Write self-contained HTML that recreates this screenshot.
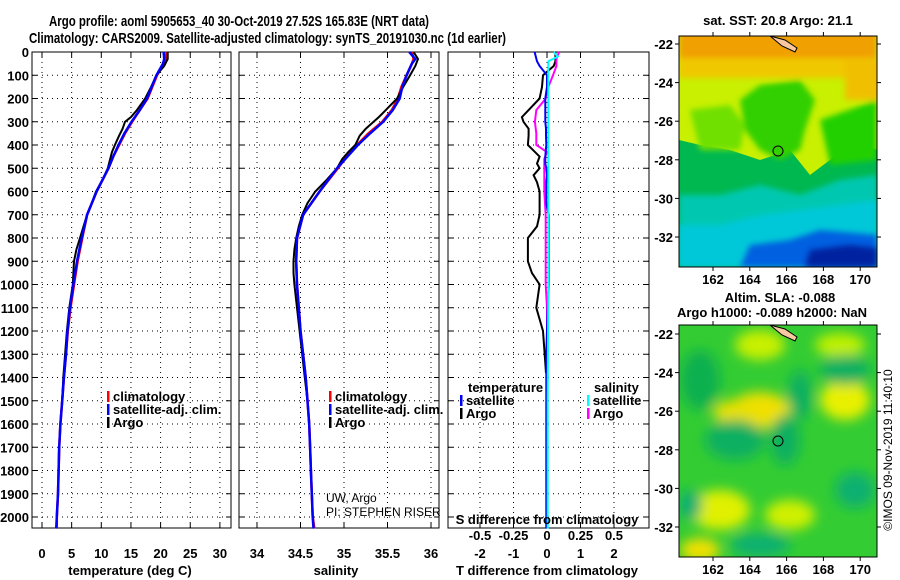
<!DOCTYPE html>
<html><head><meta charset="utf-8"><style>
html,body{margin:0;padding:0;background:#fff;}
svg{display:block;font-family:"Liberation Sans",sans-serif;}
.b{font-weight:bold;font-size:13px;}
.lg{font-weight:bold;font-size:13px;}
</style></head><body>
<svg id="c" width="900" height="580" viewBox="0 0 900 580">
<defs>
<filter id="bl" x="-20%" y="-20%" width="140%" height="140%"><feGaussianBlur stdDeviation="6"/></filter>
<filter id="bl2" x="-20%" y="-20%" width="140%" height="140%"><feGaussianBlur stdDeviation="3"/></filter>
<clipPath id="m1"><rect x="679" y="36" width="198" height="231"/></clipPath>
<clipPath id="m2"><rect x="679" y="325" width="198" height="232"/></clipPath>
</defs>
<text x="49" y="26" textLength="380" lengthAdjust="spacingAndGlyphs" style="font-weight:bold;font-size:15px">Argo profile: aoml 5905653_40 30-Oct-2019 27.52S 165.83E (NRT data)</text>
<text x="29" y="43" textLength="477" lengthAdjust="spacingAndGlyphs" style="font-weight:bold;font-size:15px">Climatology: CARS2009. Satellite-adjusted climatology: synTS_20191030.nc (1d earlier)</text>
<g id="plots"></g>

<!-- SST map -->
<g clip-path="url(#m1)">
<rect x="679" y="36" width="198" height="231" fill="#00b850"/>
<polygon points="679,36 877,36 877,150 850,140 830,160 810,175 790,150 760,160 730,150 700,145 679,140" fill="#c8f000"/>
<g filter="url(#bl2)">
<rect x="679" y="30" width="198" height="32" fill="#f0a000"/>
<rect x="679" y="58" width="198" height="20" fill="#f0c800"/>
<rect x="845" y="60" width="40" height="40" fill="#f0c000"/>
<polygon points="740,100 760,85 800,80 815,100 805,130 800,150 780,160 760,150 745,130" fill="#30d000"/>
<polygon points="690,110 730,105 745,125 740,150 700,150" fill="#70e000"/>
<polygon points="820,120 877,100 877,160 830,165" fill="#20d000"/>
</g>
<polygon points="679,195 720,195 760,185 800,195 840,180 877,175 877,267 679,267" fill="#00c8b0" filter="url(#bl2)"/>
<polygon points="679,225 720,225 760,215 800,210 877,200 877,267 679,267" fill="#00c8d8" filter="url(#bl2)"/>
<polygon points="740,267 750,245 790,240 820,230 877,235 877,267" fill="#0060e0" filter="url(#bl2)"/>
<polygon points="805,267 810,250 850,245 877,248 877,267" fill="#0020a0" filter="url(#bl2)"/>
<polygon points="770,36 785,40 797,48 795,52 782,46" fill="#f8c8a0" stroke="#000" stroke-width="1"/>
<circle cx="778" cy="151" r="5" fill="none" stroke="#000"/>
</g>
<rect x="679" y="36" width="198" height="231" fill="none" stroke="#000"/>
<text x="778" y="25" text-anchor="middle" class="b">sat. SST: 20.8 Argo: 21.1</text>

<!-- SLA map -->
<g clip-path="url(#m2)">
<rect x="679" y="325" width="198" height="232" fill="#33cc33"/>
<g filter="url(#bl)">
<ellipse cx="760" cy="410" rx="30" ry="18" fill="#f0e000"/>
<ellipse cx="735" cy="412" rx="22" ry="12" fill="#e8e000"/>
<ellipse cx="845" cy="400" rx="25" ry="20" fill="#e8f000"/>
<ellipse cx="760" cy="345" rx="25" ry="15" fill="#c8f000"/>
<ellipse cx="840" cy="345" rx="25" ry="12" fill="#c0f000"/>
<ellipse cx="720" cy="510" rx="30" ry="20" fill="#e0f000"/>
<ellipse cx="700" cy="550" rx="20" ry="12" fill="#f0e000"/>
<ellipse cx="790" cy="515" rx="25" ry="15" fill="#d0f000"/>
<ellipse cx="700" cy="380" rx="20" ry="30" fill="#10b050"/>
<ellipse cx="735" cy="440" rx="30" ry="20" fill="#10b060"/>
<ellipse cx="785" cy="440" rx="15" ry="25" fill="#10b060"/>
<ellipse cx="800" cy="395" rx="12" ry="25" fill="#10b060"/>
<ellipse cx="845" cy="370" rx="25" ry="15" fill="#10b060"/>
<ellipse cx="855" cy="490" rx="20" ry="18" fill="#10b070"/>
<ellipse cx="760" cy="545" rx="30" ry="12" fill="#10b070"/>
<ellipse cx="690" cy="505" rx="12" ry="15" fill="#10b070"/>
</g>
<polygon points="770,325 785,329 797,337 795,341 782,335" fill="#f8c8a0" stroke="#000" stroke-width="1"/>
<circle cx="778" cy="441" r="5" fill="none" stroke="#000"/>
</g>
<rect x="679" y="325" width="198" height="232" fill="none" stroke="#000"/>
<text x="780" y="302" text-anchor="middle" class="b">Altim. SLA: -0.088</text>
<text x="772" y="317" text-anchor="middle" class="b">Argo h1000: -0.089 h2000: NaN</text>
<text transform="translate(892,450) rotate(-90)" text-anchor="middle" style="font-size:12px">©IMOS 09-Nov-2019 11:40:10</text>
<g id="maps"></g>
</svg>
<script>
// ---------- data ----------
const depthTicks=[0,100,200,300,400,500,600,700,800,900,1000,1100,1200,1300,1400,1500,1600,1700,1800,1900,2000];
const tempTicks=[0,5,10,15,20,25,30];
const salTicks=[34,34.5,35,35.5,36];
const salTickLabels=["34","34.5","35","35.5","36"];
const tdiffTicks=[-2,-1,0,1,2];
const sdiffTicks=[-0.5,-0.25,0,0.25,0.5];
const sdiffTickLabels=["-0.5","-0.25","0","0.25","0.5"];
const climDepth=[0,30,50,100,150,200,250,300,350,400,450,500,600,700,800,900,1000,1100,1200,1300,1400,1500,1600,1700,1800,1900,2000,2050];
const climTemp=[21,20.9,20.5,19.4,18.6,17.8,16.5,15.2,14.0,13.0,12.0,11.2,9.2,7.6,6.8,6.0,5.4,4.8,4.35,4.05,3.7,3.4,3.1,2.9,2.8,2.7,2.5,2.5];
const satTemp=[20.5,20.6,20.4,19.3,18.5,17.7,16.5,15.1,13.9,12.9,12.0,11.2,9.2,7.6,6.7,5.9,5.3,4.7,4.3,4.05,3.7,3.4,3.1,2.9,2.8,2.7,2.5,2.4];
const climSal=[35.78,35.8,35.78,35.72,35.66,35.62,35.55,35.44,35.28,35.15,35.03,34.93,34.72,34.53,34.46,34.45,34.46,34.48,34.5,34.53,34.56,34.58,34.6,34.61,34.62,34.63,34.64,34.66];
const satSal=[35.75,35.82,35.78,35.72,35.67,35.64,35.56,35.45,35.3,35.16,35.04,34.92,34.72,34.53,34.46,34.45,34.46,34.48,34.5,34.53,34.56,34.58,34.6,34.61,34.62,34.63,34.64,34.65];
const argoDepth=[0,30,60,100,150,200,250,280,300,330,360,400,430,460,500,550,600,650,700,750,800,850,900,950,1000,1100,1200,1300,1400,1500];
const argoTemp=[21.2,21.2,20.6,19.3,18.4,17.4,16.0,15.0,14.0,13.6,13.0,12.3,11.8,11.5,11.1,10.2,9.1,8.4,7.6,7.0,6.4,5.8,5.4,5.3,5.2,4.6,4.2,3.9,3.6,3.4];
const argoSal=[35.8,35.85,35.82,35.76,35.68,35.61,35.48,35.4,35.34,35.25,35.18,35.13,35.05,34.98,34.92,34.8,34.67,34.58,34.52,34.48,34.45,34.43,34.42,34.42,34.43,34.46,34.49,34.52,34.55,34.58];
const tdDepth=[0,40,60,100,150,200,250,280,300,330,360,400,450,480,500,530,560,600,650,700,750,800,850,900,950,1000,1100,1200,1300,1380];
const tdArgo=[0.25,0.25,0.2,-0.12,-0.15,-0.22,-0.55,-0.75,-0.7,-0.55,-0.55,-0.57,-0.22,-0.3,-0.22,-0.4,-0.3,-0.22,-0.22,-0.22,-0.3,-0.57,-0.57,-0.57,-0.45,-0.22,-0.32,-0.12,-0.07,-0.03];
const tdSat=[-0.37,-0.3,-0.22,0,0,-0.05,-0.05,-0.05,-0.05,-0.03,-0.03,-0.02,-0.05,-0.05,-0.02,0,-0.02,-0.02,-0.02,0.05,0.05,0.05,0.05,0.05,0.05,0.05,0.02,0.0,-0.02,-0.02];
const sdDepth=[0,30,60,100,150,200,250,300,350,400,430,460,500,550,600,700,800,900,1000,1100,1200,1300,1400,1500];
const sdArgo=[0.09,0.07,0.07,0.045,0.01,-0.01,-0.08,-0.09,-0.08,-0.08,0.0,-0.02,-0.02,-0.02,-0.02,-0.01,-0.01,-0.01,-0.01,0,0,0,0,0];
const sdSatDepth=[0,20,40,100,300,600,1000,1500,2050];
const sdSat=[0.05,0.08,0.01,0.01,0.01,0.01,0.01,0.005,0.005];
const lonTicks=[162,164,166,168,170];
const latTicks=[-22,-24,-26,-28,-30,-32];

// ---------- scales ----------
const TOP=52, BOT=528;
const yD=d=>TOP+d*0.2325;
const xT=t=>42+t*5.93;
const xS=s=>257+(s-34)*87;
const xTD=v=>547+v*33.5;
const xSD=v=>547+v*134;
const NS="http://www.w3.org/2000/svg";
const root=document.getElementById('plots');
function mk(tag,attrs,parent){const e=document.createElementNS(NS,tag);for(const k in attrs)e.setAttribute(k,attrs[k]);(parent||root).appendChild(e);return e;}
function txt(x,y,s,anchor,cls,parent){const e=mk('text',{x:x,y:y,'text-anchor':anchor,'class':cls},parent);e.textContent=s;return e;}

function panel(name,x0,x1,xticks,xf,labels,showY){
  const g=mk('g',{});
  
  
  depthTicks.forEach(d=>{
    const l=mk('line',{x1:x0,x2:x1,y1:yD(d),y2:yD(d),stroke:'#000','stroke-dasharray':'1,4','stroke-width':1},g);
    
    
    mk('line',{x1:x0,x2:x0+5,y1:yD(d),y2:yD(d),stroke:'#000'},g);
    mk('line',{x1:x1-5,x2:x1,y1:yD(d),y2:yD(d),stroke:'#000'},g);
    if(showY){const t=txt(29,yD(d)+5,String(d),'end','b',g);
      
      }
  });
  xticks.forEach((v,i)=>{
    const x=xf(v);
    mk('line',{x1:x,x2:x,y1:TOP,y2:BOT,stroke:'#000','stroke-dasharray':'1,4'},g);
    mk('line',{x1:x,x2:x,y1:TOP,y2:TOP+5,stroke:'#000'},g);
    mk('line',{x1:x,x2:x,y1:BOT-5,y2:BOT,stroke:'#000'},g);
    if(labels){const t=txt(x,558,labels[i],'middle','b',g);
      
      }
  });
  const r=mk('rect',{x:x0,y:TOP,width:x1-x0,height:BOT-TOP,fill:'none',stroke:'#000'},g);
  
  
  return g;
}
function line(g,xs,ds,xf,color,w,name){
  const pts=xs.map((v,i)=>xf(v).toFixed(1)+','+yD(ds[i]).toFixed(1)).join(' ');
  const p=mk('polyline',{points:pts,fill:'none',stroke:color,'stroke-width':w},g);
  
  
}
function legend(g,x,y,items){
  items.forEach((it,i)=>{
    mk('rect',{x:x,y:y+i*13-10,width:2.5,height:11,fill:it[1]},g);
    const t=txt(x+6,y+i*13,it[0],'start','lg',g);
    
    
  });
}

// temperature panel
const gT=panel('temperature',32,231,tempTicks,xT,tempTicks.map(String),true);
line(gT,climTemp,climDepth,xT,'#ff0000',2.5,'temp-climatology-line');
line(gT,argoTemp,argoDepth,xT,'#000',2,'temp-argo-line');
line(gT,satTemp,climDepth,xT,'#0000ff',2.5,'temp-satellite-line');
legend(gT,107,401,[['climatology','#f00'],['satellite-adj. clim.','#00f'],['Argo','#000']]);
let t=txt(130,575,'temperature (deg C)','middle','b');



// salinity panel
const gS=panel('salinity',239,439,salTicks,xS,salTickLabels,false);
line(gS,climSal,climDepth,xS,'#ff0000',2.5,'sal-climatology-line');
line(gS,argoSal,argoDepth,xS,'#000',2,'sal-argo-line');
line(gS,satSal,climDepth,xS,'#0000ff',2.5,'sal-satellite-line');
legend(gS,329,401,[['climatology','#f00'],['satellite-adj. clim.','#00f'],['Argo','#000']]);
t=txt(336,575,'salinity','middle','b');


t=txt(326,502,'UW, Argo','start','');t.setAttribute('style','font-size:12px');


t=txt(326,516,'PI: STEPHEN RISER','start','');t.setAttribute('style','font-size:12px');



// difference panel
const gD=panel('difference',448,649,tdiffTicks,xTD,tdiffTicks.map(String),false);
line(gD,tdArgo,tdDepth,xTD,'#000',2,'tdiff-argo-line');
line(gD,sdArgo,sdDepth,xSD,'#ff00ff',2,'sdiff-argo-line');
line(gD,tdSat.concat([-0.02,-0.02]),tdDepth.concat([1800,2050]),xTD,'#0000ff',2,'tdiff-satellite-line');
line(gD,sdSat,sdSatDepth,xSD,'#00ffff',2,'sdiff-satellite-line');
t=txt(468,392,'temperature','start','lg',gD);


t=txt(594,392,'salinity','start','lg',gD);


legend(gD,460,405,[['satellite','#00f'],['Argo','#000']]);
legend(gD,587,405,[['satellite','#0ff'],['Argo','#f0f']]);
sdiffTicks.forEach((v,i)=>{const s=txt(xSD(v),540,sdiffTickLabels[i],'middle','b',gD);
  
  });
t=txt(547,524,'S difference from climatology','middle','b',gD);


t=txt(547,575,'T difference from climatology','middle','b');



// map axes
const mroot=document.getElementById('maps');
const xL=l=>713+(l-162)*18.4;
[[36,267,44],[325,557,334]].forEach((m,mi)=>{
  const yLat=la=>m[2]+(-22-la)*19.3;
  lonTicks.forEach(l=>{
    mk('line',{x1:xL(l),x2:xL(l),y1:m[0]-4,y2:m[0],stroke:'#000'},mroot);
    mk('line',{x1:xL(l),x2:xL(l),y1:m[1],y2:m[1]+4,stroke:'#000'},mroot);
    const s=txt(xL(l),m[1]+17,String(l),'middle','b',mroot);
    
    
  });
  latTicks.forEach(la=>{
    mk('line',{x1:675,x2:679,y1:yLat(la),y2:yLat(la),stroke:'#000'},mroot);
    mk('line',{x1:877,x2:881,y1:yLat(la),y2:yLat(la),stroke:'#000'},mroot);
    const s=txt(673,yLat(la)+5,String(la),'end','b',mroot);
    
    
  });
});
</script>
</body></html>
